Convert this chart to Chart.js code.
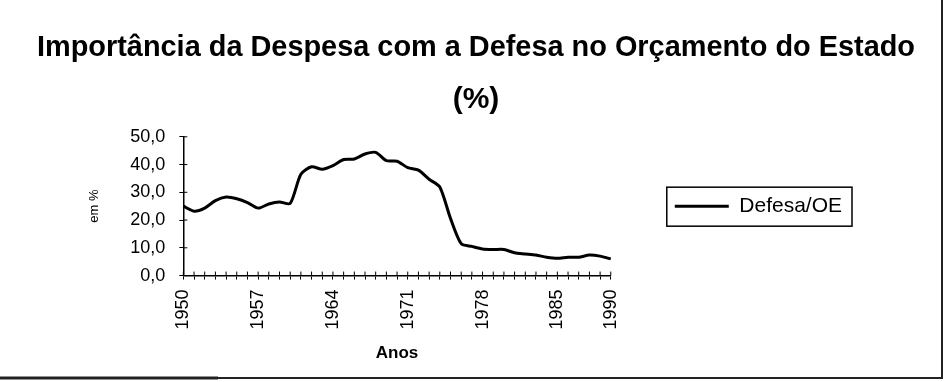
<!DOCTYPE html>
<html lang="pt">
<head>
    <meta charset="UTF-8">
    <title>Importância da Despesa com a Defesa no Orçamento do Estado</title>
    <script src="https://cdn.jsdelivr.net/npm/chart.js"></script>
    <style>
        body { margin: 0; background: #fff; }
        .wrap { width: 950px; height: 382px; position: relative; }
    </style>
</head>
<body>
    <div class="wrap"><canvas id="defesaChart"></canvas></div>

    <script>
        // dados
        const anos = [
            1950, 1951, 1952, 1953, 1954, 1955, 1956, 1957, 1958, 1959,
            1960, 1961, 1962, 1963, 1964, 1965, 1966, 1967, 1968, 1969,
            1970, 1971, 1972, 1973, 1974, 1975, 1976, 1977, 1978, 1979,
            1980, 1981, 1982, 1983, 1984, 1985, 1986, 1987, 1988, 1989, 1990
        ];
        const defesaOE = [
            25.0, 23.2, 24.3, 27.0, 28.3, 27.7, 26.3, 24.3, 25.8, 26.5,
            26.0, 36.5, 39.2, 38.3, 39.6, 41.8, 42.0, 43.8, 44.4, 41.4,
            41.2, 38.9, 38.0, 34.7, 31.9, 20.6, 11.5, 10.5, 9.6, 9.4,
            9.4, 8.2, 7.8, 7.4, 6.6, 6.2, 6.6, 6.6, 7.4, 7.0, 6.0
        ];
        const anosVisiveis = ['1950', '1957', '1964', '1971', '1978', '1985', '1990'];

        const textoFont = "'Liberation Sans', Arial, sans-serif";

        // moldura, caixa da legenda e marcas que atravessam os eixos
        const extras = {
            id: 'extras',
            afterDraw(chart) {
                const ctx = chart.ctx;
                const x = chart.scales.x, y = chart.scales.y;
                ctx.save();
                ctx.strokeStyle = '#000';
                ctx.lineWidth = 1;
                for (let i = 0; i < x.ticks.length; i++) {
                    const px = x.getPixelForTick(i);
                    ctx.beginPath(); ctx.moveTo(px, y.bottom); ctx.lineTo(px, y.bottom - 4); ctx.stroke();
                }
                for (let i = 0; i < y.ticks.length; i++) {
                    const py = y.getPixelForTick(i);
                    ctx.beginPath(); ctx.moveTo(x.left, py); ctx.lineTo(x.left + 4, py); ctx.stroke();
                }
                const hb = chart.legend.legendHitBoxes[0];
                if (hb) {
                    ctx.lineWidth = 1.5;
                    ctx.strokeRect(hb.left - 8, hb.top + hb.height / 2 - 19, hb.width + 18, 39);
                }
                ctx.strokeStyle = '#222';
                ctx.lineWidth = 2;
                ctx.beginPath();
                ctx.moveTo(942, 0); ctx.lineTo(942, 378); ctx.lineTo(0, 378);
                ctx.stroke();
                ctx.lineWidth = 3;
                ctx.beginPath(); ctx.moveTo(0, 378); ctx.lineTo(218, 378); ctx.stroke();
                ctx.restore();
            }
        };

        new Chart(document.getElementById('defesaChart'), {
            type: 'line',
            data: {
                labels: anos.map(String),
                datasets: [{
                    label: 'Defesa/OE',
                    data: defesaOE,
                    borderColor: '#000',
                    backgroundColor: '#000',
                    borderWidth: 3,
                    pointRadius: 0,
                    tension: 0.25,
                    fill: false
                }]
            },
            options: {
                responsive: true,
                maintainAspectRatio: false,
                animation: false,
                layout: { padding: { left: 37, right: 35, top: 0, bottom: 14 } },
                plugins: {
                    title: {
                        display: true,
                        text: ['Importância da Despesa com a Defesa no Orçamento do Estado', '(%)'],
                        color: '#000',
                        font: { family: textoFont, size: 30, weight: 'bold', lineHeight: 1.73 },
                        padding: { top: 22, bottom: 11 }
                    },
                    legend: {
                        position: 'right',
                        fullSize: false,
                        maxWidth: 400,
                        labels: {
                            color: '#000',
                            font: { family: textoFont, size: 21 },
                            usePointStyle: true,
                            pointStyle: 'line',
                            pointStyleWidth: 54,
                            padding: 64
                        }
                    },
                    tooltip: { enabled: false }
                },
                scales: {
                    x: {
                        offset: false,
                        border: { color: '#000', width: 1.5 },
                        grid: { drawOnChartArea: false, color: '#000', tickLength: 4 },
                        ticks: {
                            autoSkip: false,
                            maxRotation: 90,
                            minRotation: 90,
                            color: '#000',
                            padding: 10,
                            font: { family: textoFont, size: 18 },
                            callback: function (v) {
                                const l = this.getLabelForValue(v);
                                return anosVisiveis.includes(l) ? l : '';
                            }
                        },
                        title: {
                            display: true,
                            text: 'Anos',
                            color: '#000',
                            font: { family: textoFont, size: 17, weight: 'bold' },
                            padding: { top: 4 }
                        }
                    },
                    y: {
                        min: 0,
                        max: 50,
                        border: { color: '#000', width: 1.5 },
                        grid: { drawOnChartArea: false, color: '#000', tickLength: 4 },
                        ticks: {
                            stepSize: 10,
                            color: '#000',
                            padding: 14,
                            font: { family: textoFont, size: 18 },
                            callback: v => v.toFixed(1).replace('.', ',')
                        },
                        title: {
                            display: true,
                            text: 'em %',
                            color: '#000',
                            font: { family: textoFont, size: 13 },
                            padding: { top: 50, bottom: 14 }
                        }
                    },
                    // eixo vazio que só reserva a margem à direita da legenda
                    margemDireita: {
                        type: 'linear',
                        position: 'right',
                        weight: 2000,
                        grid: { display: false },
                        border: { display: false },
                        ticks: { display: false },
                        afterFit: s => { s.width = 63; }
                    }
                }
            },
            plugins: [extras]
        });
    </script>
</body>
</html>
